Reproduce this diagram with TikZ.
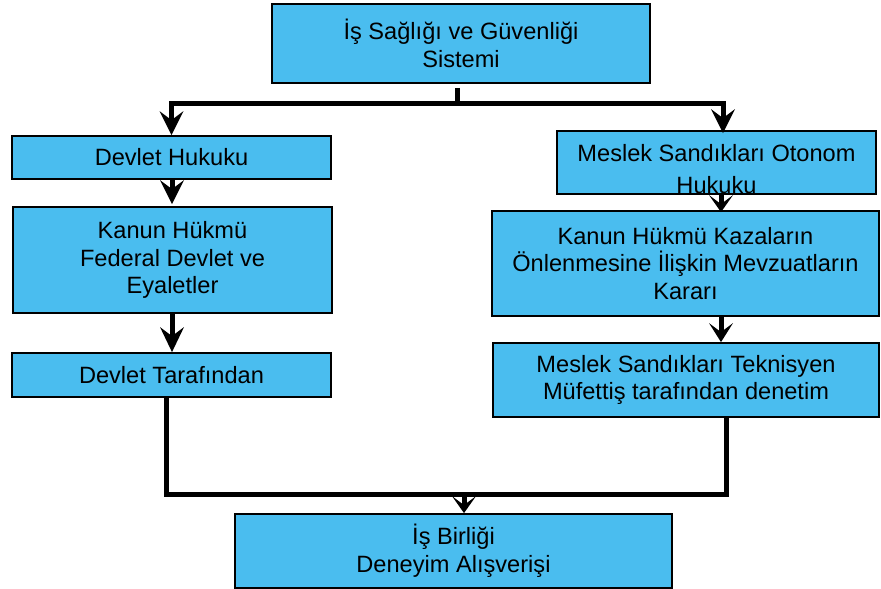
\documentclass[tikz,border=0pt]{standalone}
\usepackage{fontspec}
\setmainfont{Liberation Sans}
\usetikzlibrary{arrows.meta}
\definecolor{boxblue}{RGB}{74,189,239}
\begin{document}
\begin{tikzpicture}[x=1pt,y=-1pt,
  box/.style={draw=black, line width=1.8pt, fill=boxblue, inner sep=0pt, align=center,
    font=\fontsize{23.6pt}{27.8pt}\selectfont},
  boxtext/.style={inner sep=0pt, align=center, font=\fontsize{23.6pt}{32pt}\selectfont},
  wire/.style={line width=5pt, draw=black},
  link/.style={wire, -{Stealth[length=#1, width=24pt, inset=9pt, line width=0pt]}},
  link/.default=24pt]
\useasboundingbox[fill=white] (0,0) rectangle (881,589);

% column and junction points
\coordinate (lcol) at (172,0);
\coordinate (lout) at (166,0);
\coordinate (rcol) at (721,0);
\coordinate (rout) at (726,0);
\coordinate (split) at (457,103);
\coordinate (splitR) at (723,103);
\coordinate (merge) at (464,494);

% boxes
\node[box, minimum width=378pt, minimum height=79pt] (top) at (461,43.5) {İş Sağlığı ve Güvenliği\\Sistemi};
\node[box, minimum width=319pt, minimum height=43pt] (dh) at (171.5,157.5) {Devlet Hukuku};
\node[box, minimum width=319pt, minimum height=106pt] (khL) at (172.5,260) {Kanun Hükmü\\Federal Devlet ve\\Eyaletler};
\node[box, minimum width=319pt, minimum height=44pt] (dt) at (171.5,375) {Devlet Tarafından};
\node[box, minimum width=387pt, minimum height=105pt] (khR) at (685.5,263.5) {Kanun Hükmü Kazaların\\Önlenmesine İlişkin Mevzuatların\\Kararı};
\node[box, minimum width=386pt, minimum height=74pt] (tek) at (686,380) {Meslek Sandıkları Teknisyen\\Müfettiş tarafından denetim};
\node[box, minimum width=437pt, minimum height=74pt] (bot) at (453.5,551) {İş Birliği\\Deneyim Alışverişi};

% box whose second text line runs past its lower edge and is cut off there
\node[box, minimum width=319pt, minimum height=63pt] (oto) at (716.5,162.5) {};
\begin{scope}
  \clip (oto.north west) rectangle ([yshift=1.8pt]oto.south east);
  \node[boxtext] (otoText) at (716.5,169.5) {Meslek Sandıkları Otonom\\Hukuku};
\end{scope}

% top branch
\draw[wire] ([yshift=-4pt]top.south -| split) -- (split);
\draw[link] (split) -| (dh.north);
\draw[link] (split) -- (splitR) -- ([yshift=-3pt]oto.north -| splitR);

% left column
\draw[link] (dh.south -| lcol) -- ([yshift=2pt]khL.north -| lcol);
\draw[link=25pt] (khL.south -| lcol) -- (dt.north -| lcol);

% right column
\draw[link=17pt] (oto.south -| rcol) -- ([yshift=-2pt]khR.north -| rcol);
\draw[link=19pt] (khR.south -| rcol) -- (tek.north -| rcol);

% joining both columns
\draw[wire] (dt.south -| lout) |- (merge) -| (tek.south -| rout);
\draw[link=17pt] (merge) -- (bot.north -| merge);
\end{tikzpicture}
\end{document}
